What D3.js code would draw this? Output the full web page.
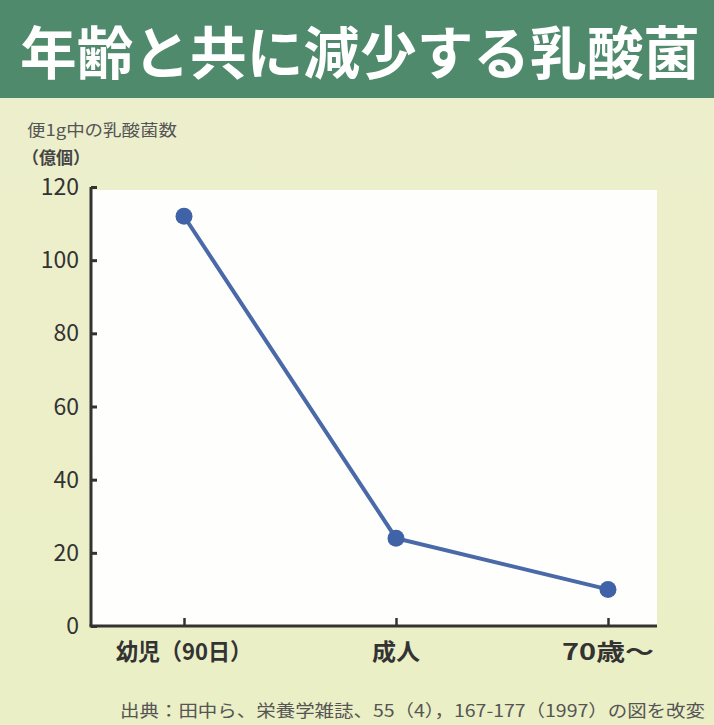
<!DOCTYPE html>
<html>
<head>
<meta charset="utf-8">
<script src="https://cdn.jsdelivr.net/npm/d3@7"></script>
<style>
  html, body { margin: 0; padding: 0; background: #eef0cd; }
  svg { display: block; font-family: "Noto Sans CJK JP", "Noto Sans", sans-serif; }
</style>
</head>
<body>
<svg id="chart" width="714" height="725"></svg>
<script>
const categories = ["幼児（90日）", "成人", "70歳～"];
const values = [112, 24, 10];
const yTicks = [0, 20, 40, 60, 80, 100, 120];

const svg = d3.select("#chart"),
    width = +svg.attr("width"),
    height = +svg.attr("height");

const defs = svg.append("defs");
const bg = defs.append("linearGradient").attr("id", "bg").attr("x1", 0).attr("y1", 0).attr("x2", 0).attr("y2", 1);
bg.append("stop").attr("offset", "0%").attr("stop-color", "#edefcd");
bg.append("stop").attr("offset", "100%").attr("stop-color", "#ebefc5");

svg.append("rect").attr("width", width).attr("height", height).attr("fill", "url(#bg)");

// title band
svg.append("rect").attr("x", 0).attr("y", 0).attr("width", width).attr("height", 98).attr("fill", "#4e8a6b");
svg.append("text")
    .attr("x", 20).attr("y", 74)
    .attr("fill", "#fff")
    .attr("font-size", 57)
    .attr("font-weight", 700)
    .attr("textLength", 680)
    .attr("lengthAdjust", "spacingAndGlyphs")
    .text("年齢と共に減少する乳酸菌");

const x0 = 91, x1 = 657, yTop = 187, yBot = 626;

const x = d3.scalePoint().domain(categories).range([184, 608]);
const y = d3.scaleLinear().domain([0, 120]).range([yBot, yTop]);

// plot panel
svg.append("rect").attr("x", x0).attr("y", 190).attr("width", x1 - x0).attr("height", yBot - 190).attr("fill", "#fefefc");

// y axis label
svg.append("text").attr("x", 27).attr("y", 136).attr("font-size", 16).attr("fill", "#555")
    .attr("textLength", 150).attr("lengthAdjust", "spacingAndGlyphs").text("便1g中の乳酸菌数");
svg.append("text").attr("x", 22).attr("y", 164).attr("font-size", 17).attr("font-weight", 700).attr("fill", "#444").text("（億個）");

const axisColor = "#333";

// y axis
const yAxis = svg.append("g").attr("transform", `translate(${x0},0)`)
    .call(d3.axisRight(y).tickValues(yTicks).tickSize(6).tickFormat(""));
yAxis.select(".domain").attr("d", `M0,${yTop}V${yBot}`).attr("stroke", axisColor).attr("stroke-width", 3);
yAxis.selectAll(".tick line").attr("stroke", axisColor).attr("stroke-width", 3);

svg.selectAll(".ylab").data(yTicks).enter().append("text")
    .attr("class", "ylab")
    .attr("x", 79).attr("y", d => y(d) + 8)
    .attr("text-anchor", "end")
    .attr("font-size", 23)
    .attr("fill", "#333")
    .text(d => d);

// x axis
const xAxis = svg.append("g").attr("transform", `translate(0,${yBot})`)
    .call(d3.axisTop(x).tickSize(8).tickFormat(""));
xAxis.select(".domain").attr("d", `M${x0 - 1.5},0H${x1}`).attr("stroke", axisColor).attr("stroke-width", 3);
xAxis.selectAll(".tick line").attr("stroke", axisColor).attr("stroke-width", 2.5);

svg.selectAll(".xlab").data(categories).enter().append("text")
    .attr("class", "xlab")
    .attr("x", d => x(d)).attr("y", 660)
    .attr("text-anchor", "middle")
    .attr("font-size", 23)
    .attr("font-weight", 700)
    .attr("fill", "#333")
    .attr("textLength", (d, i) => [136, 48, 92][i])
    .attr("lengthAdjust", "spacingAndGlyphs")
    .text(d => d);

// line and points
const pts = categories.map((c, i) => [x(c), y(values[i])]);
svg.append("path")
    .attr("d", d3.line()(pts))
    .attr("fill", "none")
    .attr("stroke", "#4a69a8")
    .attr("stroke-width", 4);

svg.selectAll(".pt").data(pts).enter().append("circle")
    .attr("class", "pt")
    .attr("cx", d => d[0]).attr("cy", d => d[1])
    .attr("r", 8.5)
    .attr("fill", "#3f63a6");

// source
svg.append("text")
    .attr("x", 120).attr("y", 717)
    .attr("font-size", 17)
    .attr("fill", "#555")
    .attr("textLength", 585)
    .attr("lengthAdjust", "spacingAndGlyphs")
    .text("出典：田中ら、栄養学雑誌、55（4），167-177（1997）の図を改変");
</script>
</body>
</html>
